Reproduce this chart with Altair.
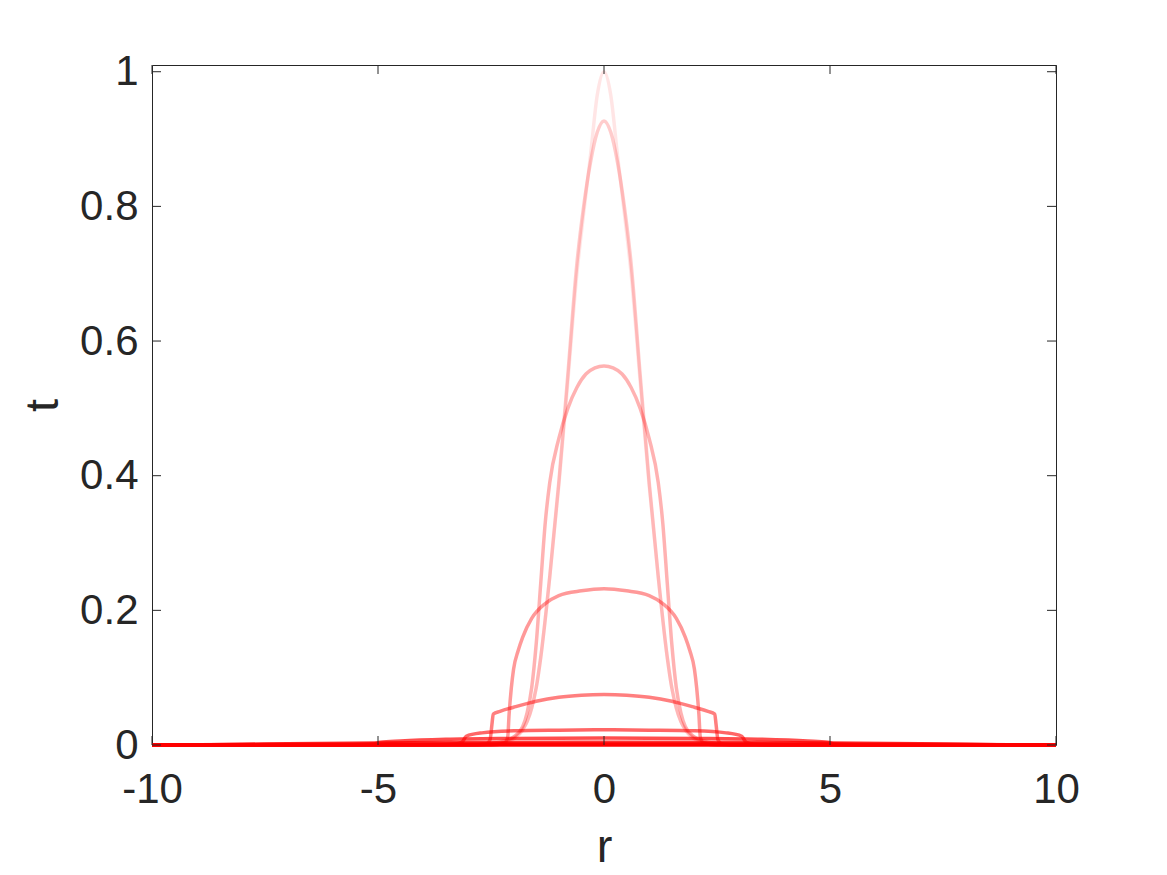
import altair as alt
import pandas as pd

# ---- data ----
x_ticks = [-10, -5, 0, 5, 10]
y_ticks = [0, 0.2, 0.4, 0.6, 0.8, 1]

r1 = [-10, -2.5, -2.2, -2.0, -1.8, -1.7, -1.6, -1.5, -1.4, -1.2, -1.0, -0.8, -0.6, -0.45, -0.3, -0.15, 0,
      0.15, 0.3, 0.45, 0.6, 0.8, 1.0, 1.2, 1.4, 1.5, 1.6, 1.7, 1.8, 2.0, 2.2, 2.5, 10]
t1 = [0, 0, 0.004, 0.011, 0.024, 0.035, 0.055, 0.085, 0.13, 0.25, 0.385, 0.54, 0.70, 0.79, 0.875, 0.965, 1.0,
      0.965, 0.875, 0.79, 0.70, 0.54, 0.385, 0.25, 0.13, 0.085, 0.055, 0.035, 0.024, 0.011, 0.004, 0, 0]

r2 = [-10, -2.5, -2.2, -2.0, -1.8, -1.7, -1.6, -1.5, -1.4, -1.2, -1.0, -0.8, -0.6, -0.45, -0.3, -0.15, 0,
      0.15, 0.3, 0.45, 0.6, 0.8, 1.0, 1.2, 1.4, 1.5, 1.6, 1.7, 1.8, 2.0, 2.2, 2.5, 10]
t2 = [0, 0, 0.003, 0.009, 0.022, 0.035, 0.055, 0.085, 0.13, 0.25, 0.39, 0.55, 0.715, 0.80, 0.865, 0.91, 0.927,
      0.91, 0.865, 0.80, 0.715, 0.55, 0.39, 0.25, 0.13, 0.085, 0.055, 0.035, 0.022, 0.009, 0.003, 0, 0]

r3 = [-10, -2.8, -2.5, -2.2, -2.0, -1.8, -1.7, -1.6, -1.5, -1.4, -1.3, -1.2, -1.0, -0.8, -0.6, -0.4, -0.2, 0,
      0.2, 0.4, 0.6, 0.8, 1.0, 1.2, 1.3, 1.4, 1.5, 1.6, 1.7, 1.8, 2.0, 2.2, 2.5, 2.8, 10]
t3 = [0, 0, 0.002, 0.006, 0.012, 0.027, 0.048, 0.085, 0.15, 0.24, 0.33, 0.39, 0.455, 0.50, 0.531, 0.551, 0.56, 0.563,
      0.56, 0.551, 0.531, 0.50, 0.455, 0.39, 0.33, 0.24, 0.15, 0.085, 0.048, 0.027, 0.012, 0.006, 0.002, 0, 0]

r4 = [-10, -2.5, -2.2, -2.13, -2.1, -2.05, -2.0, -1.9, -1.8, -1.6, -1.3, -1.0, -0.5, 0,
      0.5, 1.0, 1.3, 1.6, 1.8, 1.9, 2.0, 2.05, 2.1, 2.13, 2.2, 2.5, 10]
t4 = [0, 0, 0.003, 0.012, 0.045, 0.085, 0.113, 0.14, 0.16, 0.188, 0.21, 0.222, 0.229, 0.232,
      0.229, 0.222, 0.21, 0.188, 0.16, 0.14, 0.113, 0.085, 0.045, 0.012, 0.003, 0, 0]

r5 = [-10, -3.0, -2.6, -2.52, -2.48, -2.45, -2.3, -2.0, -1.5, -1.0, -0.5, 0,
      0.5, 1.0, 1.5, 2.0, 2.3, 2.45, 2.48, 2.52, 2.6, 3.0, 10]
t5 = [0, 0, 0.002, 0.008, 0.03, 0.046, 0.05, 0.056, 0.065, 0.071, 0.074, 0.075,
      0.074, 0.071, 0.065, 0.056, 0.05, 0.046, 0.03, 0.008, 0.002, 0, 0]

r6 = [-10, -3.8, -3.3, -3.15, -3.1, -3.05, -2.7, -2.0, -1.0, 0,
      1.0, 2.0, 2.7, 3.05, 3.1, 3.15, 3.3, 3.8, 10]
t6 = [0, 0, 0.0015, 0.004, 0.008, 0.013, 0.018, 0.021, 0.022, 0.0225,
      0.022, 0.021, 0.018, 0.013, 0.008, 0.004, 0.0015, 0, 0]

r7 = [-10, -6, -5.1, -4.95, -4.5, -3.5, -2, 0, 2, 3.5, 4.5, 4.95, 5.1, 6, 10]
t7 = [0, 0, 0.0015, 0.004, 0.006, 0.0085, 0.0098, 0.0105, 0.0098, 0.0085, 0.006, 0.004, 0.0015, 0, 0]

r8 = [-10, -9, -8, -7, -5, -3, 0, 3, 5, 7, 8, 9, 10]
t8 = [0, 0.0003, 0.001, 0.002, 0.003, 0.0038, 0.004, 0.0038, 0.003, 0.002, 0.001, 0.0003, 0]

r9 = [-10, -9, -5, 0, 5, 9, 10]
t9 = [0, 0.0004, 0.0012, 0.0015, 0.0012, 0.0004, 0]

r10 = [-10, 10]
t10 = [0, 0]

alphas = [0.1, 0.2, 0.3, 0.4, 0.5, 0.6, 0.7, 0.8, 0.9, 1.0]

curves = [(r1, t1), (r2, t2), (r3, t3), (r4, t4), (r5, t5),
          (r6, t6), (r7, t7), (r8, t8), (r9, t9), (r10, t10)]

rows = []
for i, ((rs, ts), a) in enumerate(zip(curves, alphas)):
    for r, t in zip(rs, ts):
        rows.append({"curve": i, "r": r, "t": t, "alpha": a})
df = pd.DataFrame(rows)

W, H = 904, 680
FONT = "Liberation Sans, Arial, Helvetica, sans-serif"
DARK = "#262626"

x_scale = alt.Scale(domain=[-10, 10], nice=False, zero=False)
y_scale = alt.Scale(domain=[0, 1.01], nice=False, zero=False)

x_axis = alt.Axis(values=x_ticks, labelExpr="'' + datum.value", title="r",
                  labelPadding=24, titleBaseline="alphabetic", titleY=116)
y_axis = alt.Axis(values=y_ticks, labelExpr="'' + datum.value", title="t",
                  labelPadding=14, labelOffset=0, titleBaseline="alphabetic", titleX=-95)

lines = alt.Chart(df).mark_line(strokeWidth=3.5, color="#ff0000", interpolate="monotone", clip=False).encode(
    x=alt.X("r:Q", scale=x_scale, axis=x_axis),
    y=alt.Y("t:Q", scale=y_scale, axis=y_axis),
    detail="curve:N",
    strokeOpacity=alt.StrokeOpacity("alpha:Q", scale=None),
)

xt = pd.DataFrame({"r": x_ticks})
yt = pd.DataFrame({"t": y_ticks})

tick_bottom = alt.Chart(xt).mark_rule(color=DARK, strokeWidth=1).encode(
    x=alt.X("r:Q", scale=x_scale, axis=x_axis), y=alt.value(H), y2=alt.value(H - 9))
tick_top = alt.Chart(xt).mark_rule(color=DARK, strokeWidth=1).encode(
    x=alt.X("r:Q", scale=x_scale, axis=x_axis), y=alt.value(0), y2=alt.value(9))
tick_left = alt.Chart(yt).mark_rule(color=DARK, strokeWidth=1).encode(
    y=alt.Y("t:Q", scale=y_scale, axis=y_axis), x=alt.value(0), x2=alt.value(9))
tick_right = alt.Chart(yt).mark_rule(color=DARK, strokeWidth=1).encode(
    y=alt.Y("t:Q", scale=y_scale, axis=y_axis), x=alt.value(W), x2=alt.value(W - 9))

chart = alt.layer(lines, tick_bottom, tick_top, tick_left, tick_right).properties(
    width=W, height=H,
    padding={"left": 144, "top": 57, "right": 100, "bottom": 128},
    autosize=alt.AutoSizeParams(type="none"),
    background="white",
).configure_view(
    stroke=DARK, strokeWidth=1,
).configure_axis(
    tickSize=0, domain=False, grid=False,
    labelFont=FONT, labelFontSize=42, labelColor=DARK,
    labelFlush=False, labelOverlap=False,
    titleFont=FONT, titleFontSize=47, titleColor=DARK, titleFontWeight="normal",
)

chart.save("out.html", embed_options={"renderer": "svg", "actions": False})
